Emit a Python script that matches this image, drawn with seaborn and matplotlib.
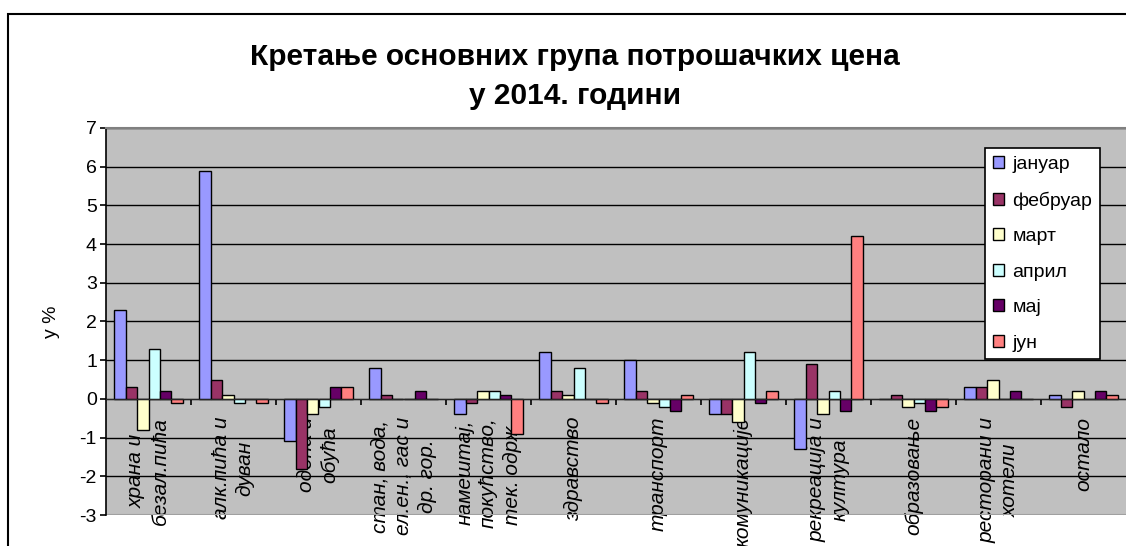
import matplotlib
matplotlib.use("Agg")
import matplotlib.pyplot as plt
import seaborn as sns
import pandas as pd
from matplotlib.patches import Rectangle

# categories (x tick labels) and months
categories = ["храна и\nбезал.пића", "алк.пића и\nдуван", "одећа и\nобућа",
              "стан, вода,\nел.ен., гас и\nдр. гор.", "намештај,\nпокућство,\nтек. одрж.",
              "здравство", "транспорт", "комуникације", "рекреација и\nкултура",
              "образовање", "ресторани и\nхотели", "остало"]
months = ["јануар", "фебруар", "март", "април", "мај", "јун"]

# monthly change in %, one list per month
januar = [2.3, 5.9, -1.1, 0.8, -0.4, 1.2, 1.0, -0.4, -1.3, 0.0, 0.3, 0.1]
februar = [0.3, 0.5, -1.8, 0.1, -0.1, 0.2, 0.2, -0.4, 0.9, 0.1, 0.3, -0.2]
mart = [-0.8, 0.1, -0.4, 0.0, 0.2, 0.1, -0.1, -0.6, -0.4, -0.2, 0.5, 0.2]
april = [1.3, -0.1, -0.2, 0.0, 0.2, 0.8, -0.2, 1.2, 0.2, -0.1, 0.0, 0.0]
maj = [0.2, 0.0, 0.3, 0.2, 0.1, 0.0, -0.3, -0.1, -0.3, -0.3, 0.2, 0.2]
jun = [-0.1, -0.1, 0.3, 0.0, -0.9, -0.1, 0.1, 0.2, 4.2, -0.2, 0.0, 0.1]

colors = ["#9999FF", "#993366", "#FFFFCC", "#CCFFFF", "#660066", "#FF8080"]

# long-form table for seaborn
series = [januar, februar, mart, april, maj, jun]
rows = []
for m, vals in zip(months, series):
    for c, v in zip(categories, vals):
        rows.append({"kat": c, "mesec": m, "vrednost": v})
df = pd.DataFrame(rows)

sns.set_style("white")
plt.rcParams["font.family"] = ["Liberation Sans", "DejaVu Sans"]
plt.rcParams["axes.unicode_minus"] = False
for k in ["text.color", "axes.labelcolor", "xtick.color", "ytick.color"]:
    plt.rcParams[k] = "black"

W, H = 1126, 546
fig = plt.figure(figsize=(W / 100, H / 100), dpi=100)
ax = fig.add_axes([106 / W, 31 / H, 1020 / W, 387 / H])

sns.barplot(data=df, x="kat", y="vrednost", hue="mesec", order=categories,
            hue_order=months, palette=colors, width=0.81, edgecolor="black",
            linewidth=1.0, saturation=1, errorbar=None, ax=ax, zorder=3)

ax.set_facecolor("#C0C0C0")
ax.set_ylim(-3, 7)
ax.set_xlim(-0.5, 11.5)
ax.set_yticks(range(-3, 8))
ax.yaxis.grid(True, color="black", linewidth=1.0, zorder=0)
ax.set_axisbelow(True)

ax.spines["bottom"].set_position(("data", 0))
ax.spines["bottom"].set_zorder(4)
ax.spines["right"].set_visible(False)
ax.spines["top"].set_color("#808080")
ax.spines["top"].set_linewidth(1.5)
ax.spines["left"].set_color("black")
ax.spines["left"].set_linewidth(1.2)
ax.axhline(-3, color="#A0A0A0", linewidth=1.5, zorder=1)

ax.set_xticks(range(len(categories)))
ax.set_xticklabels(categories, rotation=90, ha="center", va="top",
                   multialignment="center", fontstyle="italic", fontsize=15,
                   linespacing=1.3)
ax.tick_params(axis="x", which="major", length=0, pad=13)
ax.set_xticks([i + 0.5 for i in range(len(categories) - 1)], minor=True)
ax.tick_params(axis="x", which="minor", bottom=True, length=4.5, width=1.2,
               direction="out", color="black")
ax.tick_params(axis="y", left=True, length=4.5, width=1.2, direction="out",
               labelsize=14, pad=2, color="black")

ax.set_xlabel("")
ax.set_ylabel("у %", fontsize=14, labelpad=14)

handles, labels = ax.get_legend_handles_labels()
ax.legend(handles, labels, loc="upper left",
          bbox_to_anchor=(985 / W, 1 - 148 / H), bbox_transform=fig.transFigure,
          borderaxespad=0, fancybox=False, framealpha=1, edgecolor="black",
          facecolor="white", fontsize=14, handlelength=0.6, handleheight=0.6,
          handletextpad=0.4, labelspacing=0.95, borderpad=0.4)
ax.get_legend().get_frame().set_linewidth(1.2)

# two-line title
fig.text(575 / W, 1 - 57 / H, "Кретање основних група потрошачких цена",
         ha="center", va="center", fontsize=21.5, fontweight="bold")
fig.text(575 / W, 1 - 96 / H, "у 2014. години",
         ha="center", va="center", fontsize=21.5, fontweight="bold")

# outer chart frame
fig.patches.append(Rectangle((8 / W, -0.05), 1.1, 1 - 14 / H + 0.05, fill=False,
                             edgecolor="black", linewidth=1.5,
                             transform=fig.transFigure, figure=fig))

fig.savefig("out.png", dpi=100)
